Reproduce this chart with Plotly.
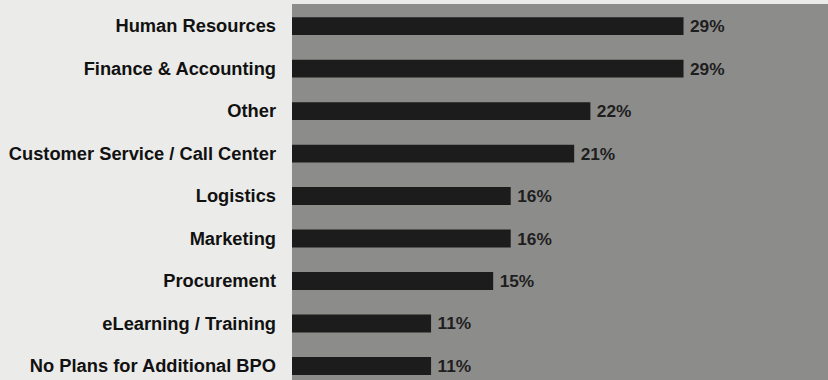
import plotly.graph_objects as go

categories = [
    "Human Resources",
    "Finance & Accounting",
    "Other",
    "Customer Service / Call Center",
    "Logistics",
    "Marketing",
    "Procurement",
    "eLearning / Training",
    "No Plans for Additional BPO",
]
# bar lengths (percent)
values = [29.0, 29.0, 22.1, 20.9, 16.2, 16.2, 14.9, 10.3, 10.3]
# printed labels
value_labels = ["29%", "29%", "22%", "21%", "16%", "16%", "15%", "11%", "11%"]

fig = go.Figure(
    go.Bar(
        x=values,
        y=categories,
        orientation="h",
        marker=dict(color="#1c1c1c", line=dict(width=0)),
        width=0.42,
        text=["\u2009" + t for t in value_labels],
        textposition="outside",
        constraintext="none",
        cliponaxis=False,
        textfont=dict(family="Liberation Sans, Arial, sans-serif", size=17.3, color="#1e1e1e", weight="bold"),
        hoverinfo="skip",
    )
)

fig.update_layout(
    width=828,
    height=380,
    margin=dict(l=292, r=0, t=4, b=0),
    paper_bgcolor="#ebebe9",
    plot_bgcolor="#8c8c8a",
    showlegend=False,
    bargap=0.58,
)
fig.update_xaxes(range=[0, 39.7], showgrid=False, zeroline=False, showticklabels=False, ticks="")
fig.update_yaxes(
    categoryorder="array",
    categoryarray=categories,
    range=[8.33, -0.52],
    showgrid=False,
    zeroline=False,
    ticks="",
    ticklabelstandoff=15,
    tickfont=dict(family="Liberation Sans, Arial, sans-serif", size=18.3, color="#111111", weight="bold"),
)

fig.write_html("out.html")
